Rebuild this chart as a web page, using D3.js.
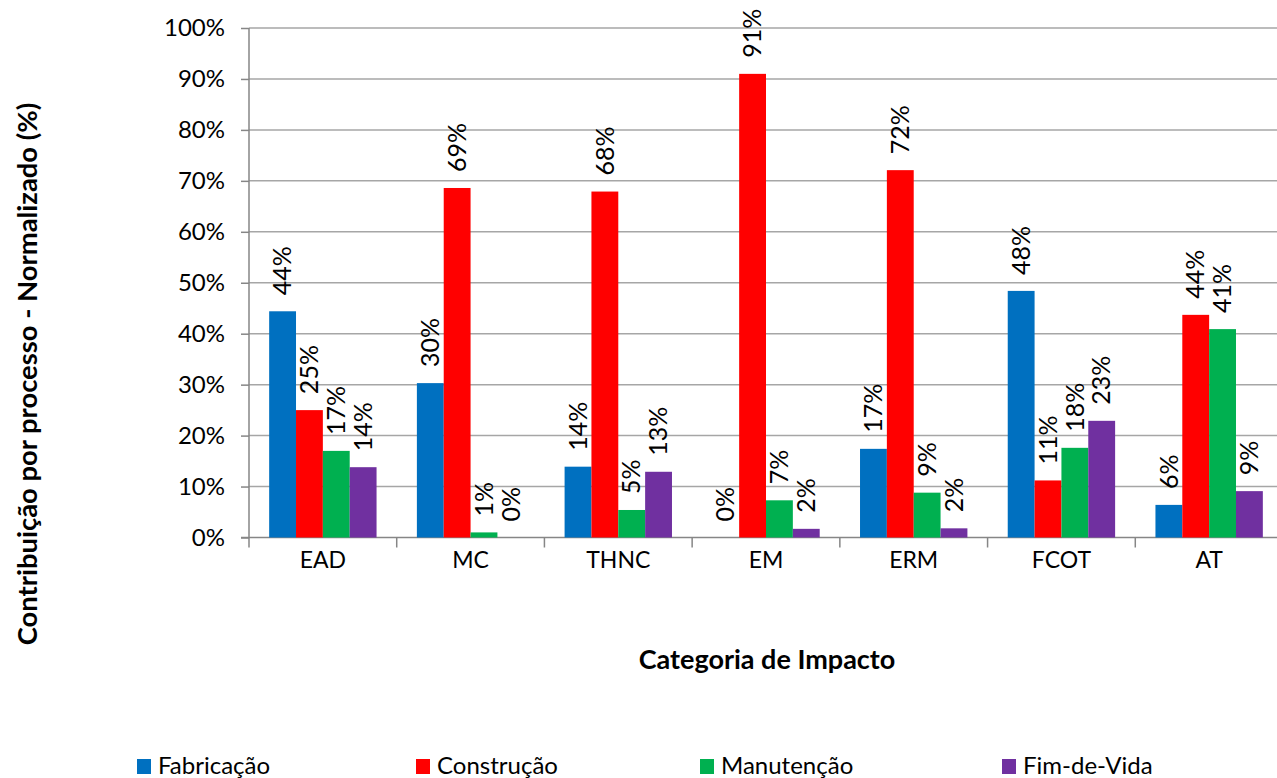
<!DOCTYPE html>
<html><head><meta charset="utf-8">
<script src="https://cdn.jsdelivr.net/npm/d3@7"></script>
<style>
html,body{margin:0;padding:0;background:#fff;overflow:hidden;}
svg{display:block;font-family:Lato,'Open Sans',sans-serif;}
</style></head><body>
<svg id="c" width="1277" height="778"></svg>
<script>
const categories = ["EAD","MC","THNC","EM","ERM","FCOT","AT"];
const seriesNames = ["Fabricação","Construção","Manutenção","Fim-de-Vida"];
const fabricacao = [44.4, 30.3, 13.9, 0.0, 17.4, 48.4, 6.4];
const construcao = [25.0, 68.6, 67.9, 91.0, 72.1, 11.2, 43.7];
const manutencao = [17.0, 1.0, 5.4, 7.3, 8.8, 17.6, 40.9];
const fimDeVida  = [13.8, 0.0, 12.9, 1.7, 1.8, 22.9, 9.1];
const yTicks = [0,10,20,30,40,50,60,70,80,90,100];
const colors = ["#0070C0","#FF0000","#00B050","#7030A0"];
const xTitle = "Categoria de Impacto";
const yTitle = "Contribuição por processo - Normalizado (%)";

const series = [fabricacao, construcao, manutencao, fimDeVida];
const svg = d3.select("#c");
const L = 249, R = 1283, T = 28, B = 537.5;
const x = d3.scaleBand().domain(categories).range([L, R]).paddingInner(0).paddingOuter(0);
const inner = d3.scaleBand().domain(d3.range(4))
  .range([x.bandwidth()*0.1365, x.bandwidth()*(1-0.1365)]).paddingInner(0).paddingOuter(0);
const y = d3.scaleLinear().domain([0,100]).range([B, T]);

// gridlines
svg.append("g").selectAll("line").data(yTicks.filter(d=>d>0)).join("line")
  .attr("x1", L).attr("x2", R).attr("y1", d=>y(d)).attr("y2", d=>y(d))
  .attr("stroke", "#a6a6a6").attr("stroke-width", 1.5);

// y axis
const yAxis = d3.axisLeft(y).tickValues(yTicks).tickSize(8).tickPadding(16).tickFormat(d=>d+"%");
const gy = svg.append("g").attr("transform", `translate(${L},0)`).call(yAxis);
gy.select(".domain").attr("stroke", "#868686").attr("stroke-width", 1.5).attr("d", `M0,${T}V${B}`);
gy.selectAll(".tick line").attr("stroke", "#868686").attr("stroke-width", 1.5);
gy.selectAll(".tick text").attr("font-size", 24).attr("fill", "#000").attr("font-family", "Lato,'Open Sans',sans-serif");

// x axis
const gx = svg.append("g").attr("transform", `translate(0,${B})`);
gx.append("line").attr("x1", L-8).attr("x2", R).attr("y1", 0).attr("y2", 0).attr("stroke", "#868686").attr("stroke-width", 1.5);
gx.selectAll("line.tk").data(categories).join("line").attr("class","tk")
  .attr("x1", d=>x(d)).attr("x2", d=>x(d)).attr("y1", 0).attr("y2", 10)
  .attr("stroke", "#868686").attr("stroke-width", 1.5);
gx.selectAll("text").data(categories).join("text")
  .attr("x", d=>x(d)+x.bandwidth()/2).attr("y", 22).attr("dy", "0.35em")
  .attr("text-anchor", "middle").attr("font-size", 23).text(d=>d);

// bars
const rows = categories.map((c,i)=>({c, vals: series.map((s,k)=>({k, v: s[i]}))}));
const groups = svg.append("g").selectAll("g").data(rows).join("g")
  .attr("transform", d=>`translate(${x(d.c)},0)`);
groups.selectAll("rect").data(d=>d.vals).join("rect")
  .attr("x", d=>inner(d.k)).attr("width", inner.bandwidth())
  .attr("y", d=>y(d.v)).attr("height", d=>B - y(d.v))
  .attr("fill", d=>colors[d.k]);
groups.selectAll("text").data(d=>d.vals).join("text")
  .attr("transform", d=>`translate(${inner(d.k)+inner.bandwidth()/2},${y(d.v)-16}) rotate(-90)`)
  .attr("dy", "0.35em").attr("font-size", 25).attr("text-anchor", "start")
  .text(d=>Math.round(d.v)+"%");

// axis titles
svg.append("text").attr("x", 767).attr("y", 660).attr("dy","0.35em").attr("text-anchor","middle")
  .attr("font-size", 27).attr("font-weight","bold").text(xTitle);
svg.append("text").attr("transform","translate(27,374) rotate(-90)").attr("dy","0.35em").attr("text-anchor","middle")
  .attr("font-size", 27.4).attr("font-weight","bold").text(yTitle);

// legend
const legX = [137, 416, 700, 1002];
const lg = svg.append("g").selectAll("g").data(seriesNames).join("g")
  .attr("transform", (d,i)=>`translate(${legX[i]},759)`);
lg.append("rect").attr("width", 14).attr("height", 15).attr("fill", (d,i)=>colors[i]);
lg.append("text").attr("x", 21).attr("y", 7).attr("dy","0.35em").attr("font-size", 24).text(d=>d);
</script>
</body></html>
